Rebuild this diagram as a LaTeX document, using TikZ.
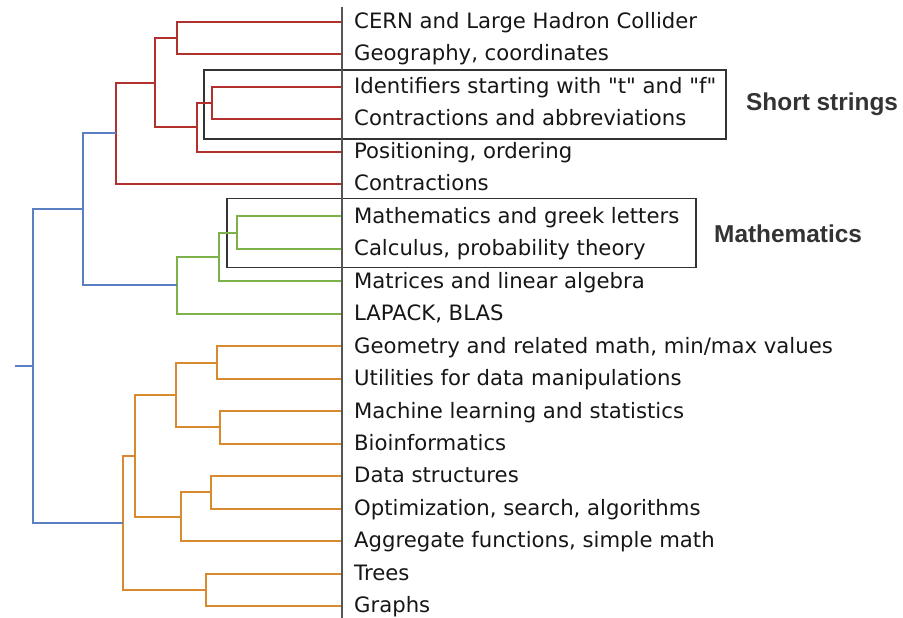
\documentclass[tikz,border=0pt]{standalone}
\usepackage{fontspec}
\setmainfont{DejaVu Sans}
\newfontfamily\leaffont{DejaVu Sans}
\newfontfamily\grouplabelfont{Liberation Sans}
\usetikzlibrary{calc}
\definecolor{cred}{HTML}{B2302E}
\definecolor{cblue}{HTML}{5C7EC2}
\definecolor{cgreen}{HTML}{7DB24A}
\definecolor{corange}{HTML}{DA8A2E}
\definecolor{caxis}{HTML}{555555}
\definecolor{ctext}{HTML}{161616}
\definecolor{clabel}{HTML}{333333}
\tikzset{
  link/.style={line width=2pt, line join=miter},
  redlink/.style={link, draw=cred},
  bluelink/.style={link, draw=cblue},
  greenlink/.style={link, draw=cgreen},
  orangelink/.style={link, draw=corange},
  leaftext/.style={anchor=base west, inner sep=0pt, text=ctext, font=\leaffont\fontsize{21.2}{24}\selectfont},
  grouplabel/.style={anchor=west, inner sep=0pt, text=clabel, font=\grouplabelfont\bfseries\fontsize{24.4}{28}\selectfont},
  groupbox/.style={draw=black!80, line width=1.3pt},
  axisline/.style={draw=caxis, line width=1.6pt}
}
\begin{document}
\begin{tikzpicture}[x=1pt,y=-1pt]
\useasboundingbox (0,0) rectangle (903,618);
% leaf endpoints on the axis
\foreach \i in {0,...,18} {
  \coordinate (L\i) at (342,{21.7+32.46*\i});
}
% red cluster
\coordinate (r1) at (177,37.9);
\coordinate (r2) at (212,102.9);
\coordinate (r3) at (197,127.2);
\coordinate (r4) at (155,82.6);
\coordinate (r5) at (116,133.3);
% green cluster
\coordinate (g1) at (237,232.7);
\coordinate (g2) at (219,257.0);
\coordinate (g3) at (177,285.4);
% orange cluster
\coordinate (o1) at (217,362.5);
\coordinate (o2) at (220,427.4);
\coordinate (o3) at (176,395.0);
\coordinate (o4) at (211,492.3);
\coordinate (o5) at (181,516.7);
\coordinate (o6) at (135,455.8);
\coordinate (o7) at (205.7,589.7);
\coordinate (o8) at (123,522.8);
% blue
\coordinate (b1) at (83,209.4);
\coordinate (b0) at (33,366.1);
\coordinate (stub) at (15,366.1);

% boxes
\draw[groupbox] (204,70) rectangle (726,139);
\draw[groupbox] (227,198.3) rectangle (696,267.3);

% red links
\draw[redlink] (L0) -| (r1) |- (L1);
\draw[redlink] (L2) -| (r2) |- (L3);
\draw[redlink] (r2) -| (r3) |- (L4);
\draw[redlink] (r1) -| (r4) |- (r3);
\draw[redlink] (r4) -| (r5) |- (L5);
% green links
\draw[greenlink] (L6) -| (g1) |- (L7);
\draw[greenlink] (g1) -| (g2) |- (L8);
\draw[greenlink] (g2) -| (g3) |- (L9);
% orange links
\draw[orangelink] (L10) -| (o1) |- (L11);
\draw[orangelink] (L12) -| (o2) |- (L13);
\draw[orangelink] (o1) -| (o3) |- (o2);
\draw[orangelink] (L14) -| (o4) |- (L15);
\draw[orangelink] (o4) -| (o5) |- (L16);
\draw[orangelink] (o3) -| (o6) |- (o5);
\draw[orangelink] (L17) -| (o7) |- (L18);
\draw[orangelink] (o6) -| (o8) |- (o7);
% blue links
\draw[bluelink] (r5) -| (b1) |- (g3);
\draw[bluelink] (b1) -| (b0) |- (o8);
\draw[bluelink] (stub) -- (b0);

% axis
\coordinate (axtop) at (342,7);
\coordinate (axbot) at (342,618);
\draw[axisline] (axtop) -- (axbot);

% leaf labels
\foreach \i/\t in {
  0/{CERN and Large Hadron Collider},
  1/{Geography, coordinates},
  2/{Identifiers starting with "t" and "f"},
  3/{Contractions and abbreviations},
  4/{Positioning, ordering},
  5/{Contractions},
  6/{Mathematics and greek letters},
  7/{Calculus, probability theory},
  8/{Matrices and linear algebra},
  9/{LAPACK, BLAS},
  10/{Geometry and related math, min/max values},
  11/{Utilities for data manipulations},
  12/{Machine learning and statistics},
  13/{Bioinformatics},
  14/{Data structures},
  15/{Optimization, search, algorithms},
  16/{Aggregate functions, simple math},
  17/{Trees},
  18/{Graphs}} {
  \node[leaftext] (t\i) at ($(L\i)+(12,6.8)$) {\t};
}

% group labels
\node[grouplabel] (short) at (746,104.5) {Short strings};
\node[grouplabel] (math) at (714,233.5) {Mathematics};
\end{tikzpicture}
\end{document}
